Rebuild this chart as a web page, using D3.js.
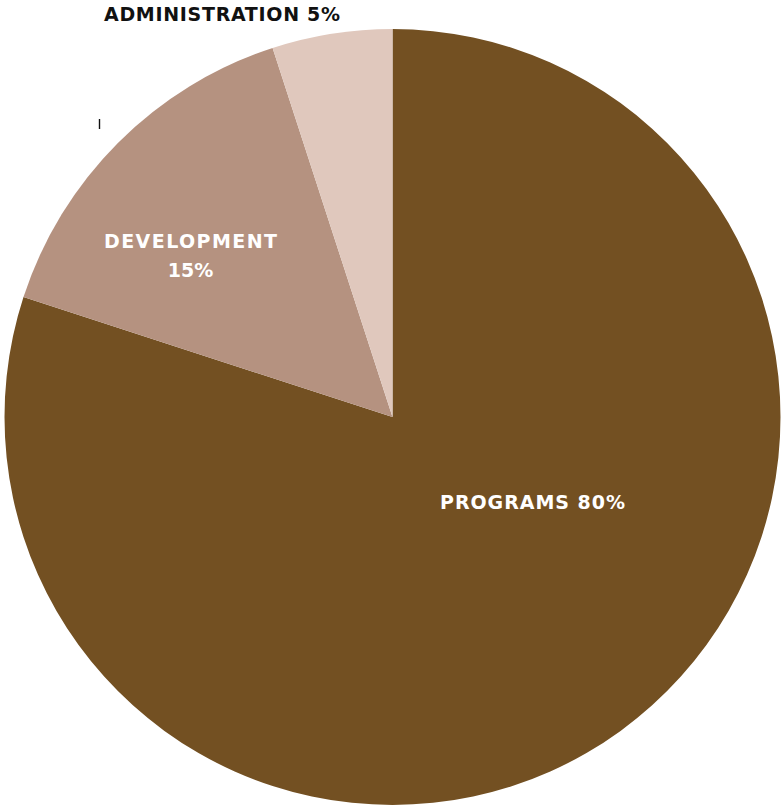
<!DOCTYPE html>
<html>
<head>
<meta charset="utf-8">
<script src="https://cdn.jsdelivr.net/npm/d3@7"></script>
<style>
  html, body { margin: 0; padding: 0; background: #fff; }
  svg text { font-family: "DejaVu Sans", sans-serif; font-weight: bold; }
</style>
</head>
<body>
<svg id="chart" width="781" height="806"></svg>
<script>
// budget split
const categories = ['PROGRAMS', 'DEVELOPMENT', 'ADMINISTRATION'];
const shares = [80, 15, 5];
const colors = ['#735022', '#b59280', '#e0c8bd'];

const svg = d3.select('#chart');
const cx = 392.5, cy = 417, r = 388;

const pie = d3.pie().sort(null).value(d => d.v);
const arc = d3.arc().innerRadius(0).outerRadius(r);
const arcs = pie(categories.map((c, i) => ({ c, v: shares[i], col: colors[i] })));

const g = svg.append('g').attr('transform', `translate(${cx},${cy})`);
g.selectAll('path.slice')
  .data(arcs)
  .join('path')
  .attr('class', 'slice')
  .attr('d', arc)
  .attr('fill', d => d.data.col);

// labels (wide geometric face, so stretch spacing to fit)
function label(x, y, txt, len, fill, anchor) {
  const t = svg.append('text')
    .attr('x', x).attr('y', y)
    .attr('text-anchor', anchor || 'middle')
    .attr('font-size', 19)
    .attr('fill', fill)
    .text(txt);
  if (len) t.attr('textLength', len).attr('lengthAdjust', 'spacing');
  return t;
}

label(532.5, 509, `${categories[0]} ${shares[0]}%`, 185, '#fff');
label(190.5, 248, categories[1], 173, '#fff');
label(190.5, 277, `${shares[1]}%`, null, '#fff');
label(104, 21, `${categories[2]} ${shares[2]}%`, 236, '#111', 'start');

// stray tick left of the chart
svg.append('line')
  .attr('x1', 99.5).attr('y1', 119).attr('x2', 99.5).attr('y2', 129)
  .attr('stroke', '#111').attr('stroke-width', 1.4);
</script>
</body>
</html>
